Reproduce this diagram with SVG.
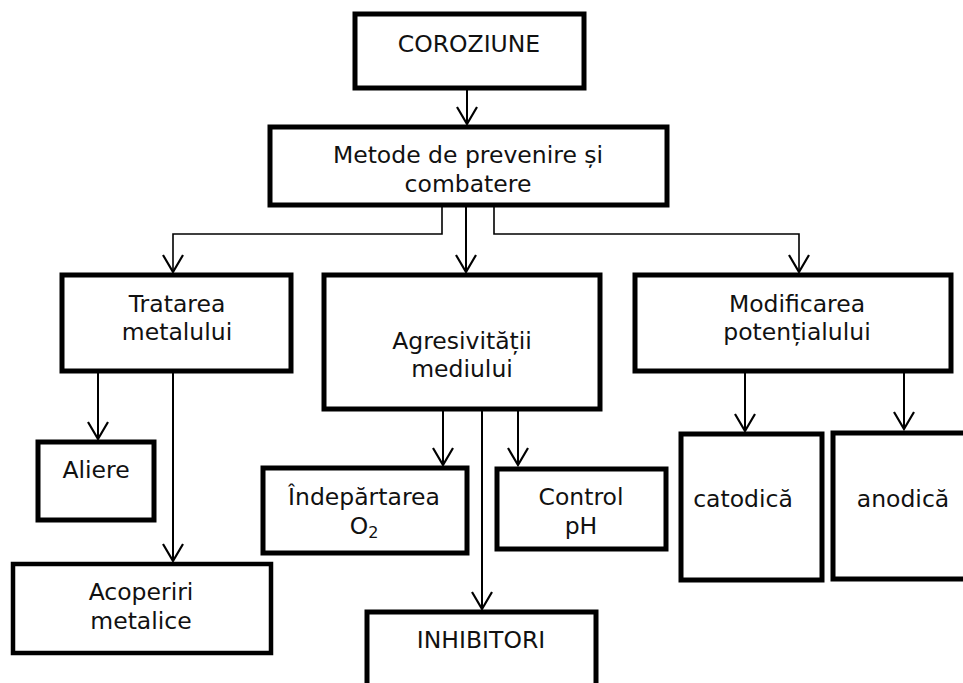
<svg xmlns="http://www.w3.org/2000/svg" width="963" height="683" viewBox="0 0 963 683">
<defs>
<marker id="ah" viewBox="0 0 20 22" refX="18" refY="11" markerWidth="20" markerHeight="22" markerUnits="userSpaceOnUse" orient="auto">
<path d="M1,1 L18,11 L1,21" fill="none" stroke="#000" stroke-width="2.2"/>
</marker>
<style>
.box{fill:#fff;stroke:#000;stroke-width:5}
.t{font-family:"DejaVu Sans","Verdana",sans-serif;font-size:23.5px;fill:#111;text-anchor:middle}
.c{fill:none;stroke:#000;stroke-width:2}
.b{fill:none;stroke:#000;stroke-width:1.6}
</style>
</defs>
<rect width="963" height="683" fill="#fff"/>
<g id="connectors">
<line class="c" x1="467" y1="90" x2="467" y2="124" marker-end="url(#ah)"/>
<line class="c" x1="466" y1="207" x2="466" y2="272" marker-end="url(#ah)"/>
<polyline class="b" points="442,207 442,234 173,234 173,272" marker-end="url(#ah)"/>
<polyline class="b" points="494,207 494,234 799,234 799,272" marker-end="url(#ah)"/>
<line class="c" x1="98" y1="373" x2="98" y2="439" marker-end="url(#ah)"/>
<line class="c" x1="173" y1="373" x2="173" y2="561" marker-end="url(#ah)"/>
<line class="c" x1="443" y1="411" x2="443" y2="465" marker-end="url(#ah)"/>
<line class="c" x1="482" y1="411" x2="482" y2="609" marker-end="url(#ah)"/>
<line class="c" x1="518" y1="411" x2="518" y2="465" marker-end="url(#ah)"/>
<line class="c" x1="745" y1="373" x2="745" y2="431" marker-end="url(#ah)"/>
<line class="c" x1="904" y1="373" x2="904" y2="429" marker-end="url(#ah)"/>
</g>
<g id="coroziune">
<rect class="box" x="355" y="14" width="229" height="74"/>
<text class="t" x="469" y="52">COROZIUNE</text>
</g>
<g id="metode">
<rect class="box" x="270" y="127" width="397" height="78"/>
<text class="t" x="468" y="163">Metode de prevenire și</text>
<text class="t" x="468" y="192">combatere</text>
</g>
<g id="tratarea">
<rect class="box" x="62" y="275" width="229" height="96"/>
<text class="t" x="177" y="312">Tratarea</text>
<text class="t" x="177" y="340">metalului</text>
</g>
<g id="agresivitatii">
<rect class="box" x="324" y="275" width="276" height="134"/>
<text class="t" x="462" y="349">Agresivității</text>
<text class="t" x="462" y="377">mediului</text>
</g>
<g id="modificarea">
<rect class="box" x="635" y="275" width="316" height="96"/>
<text class="t" x="797" y="312">Modificarea</text>
<text class="t" x="797" y="340">potențialului</text>
</g>
<g id="aliere">
<rect class="box" x="38" y="442" width="116" height="78"/>
<text class="t" x="96" y="478">Aliere</text>
</g>
<g id="acoperiri">
<rect class="box" x="13" y="564" width="258" height="89" style="stroke-width:4.5"/>
<text class="t" x="141" y="600">Acoperiri</text>
<text class="t" x="141" y="629">metalice</text>
</g>
<g id="indepartarea">
<rect class="box" x="263" y="468" width="204" height="85"/>
<text class="t" x="364" y="505">Îndepărtarea</text>
<text class="t" x="364" y="534">O<tspan font-size="16" dy="4">2</tspan></text>
</g>
<g id="control">
<rect class="box" x="497" y="469" width="169" height="80"/>
<text class="t" x="581" y="505">Control</text>
<text class="t" x="581" y="534">pH</text>
</g>
<g id="catodica">
<rect class="box" x="681" y="434" width="141" height="146"/>
<text class="t" x="743" y="507">catodică</text>
</g>
<g id="anodica">
<rect class="box" x="833" y="433" width="140" height="146"/>
<text class="t" x="903" y="507">anodică</text>
</g>
<g id="inhibitori">
<rect class="box" x="367" y="612" width="229" height="100"/>
<text class="t" x="481" y="648">INHIBITORI</text>
</g>
</svg>
